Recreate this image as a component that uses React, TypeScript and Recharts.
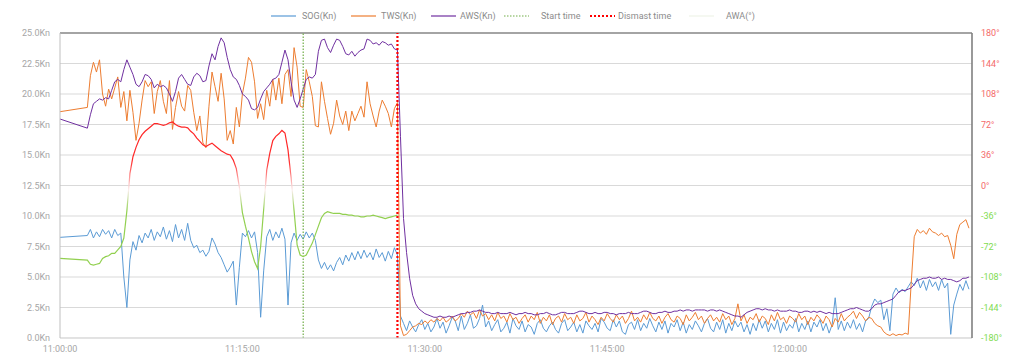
import { CartesianGrid, Line, LineChart, ReferenceLine, XAxis, YAxis } from "recharts"

// sample times: first point at 11:00:00, then a gap, then every 15 s from 11:02:15
const FIRST_SAMPLE_S = 135
const SAMPLE_STEP_S = 15

const START_TIME_S = 1200 // 11:20:00
const DISMAST_TIME_S = 1665 // 11:27:45

const TIME_TICKS = [0, 900, 1800, 2700, 3600]
const KN_TICKS = [0, 2.5, 5, 7.5, 10, 12.5, 15, 17.5, 20, 22.5, 25]
const DEG_TICKS = [-180, -144, -108, -72, -36, 0, 36, 72, 108, 144, 180]

const SOG_KN = [
  8.25,
  8.4, 8.9, 8.2, 8.7, 8.3, 8.9, 8.5, 8.8, 8.2, 8.9,
  8.4, 8.6, 5.0, 2.5, 6.4, 7.9, 7.2, 8.4, 7.8, 8.6,
  8.2, 8.9, 8.0, 8.7, 8.3, 9.1, 8.1, 8.8, 7.9, 9.3,
  8.2, 8.9, 8.0, 9.4, 8.0, 7.4, 7.6, 7.0, 7.2, 6.7,
  7.1, 8.2, 7.7, 7.0, 6.6, 6.0, 5.4, 5.8, 6.3, 2.7,
  5.8, 8.6, 8.3, 8.8, 8.2, 8.7, 7.0, 1.7, 5.5, 8.3,
  8.9, 8.0, 8.7, 8.2, 9.0, 8.1, 2.7, 7.8, 8.6, 8.0,
  8.5, 8.1, 8.7, 8.2, 8.6, 8.0, 6.4, 5.7, 6.2, 5.6,
  6.0, 5.5, 6.2, 6.6, 6.0, 6.8, 6.3, 7.0, 6.4, 7.1,
  6.5, 7.2, 6.6, 7.0, 6.4, 7.3, 6.6, 7.0, 6.3, 7.1,
  6.5, 7.4, 6.8,
  1.8, 1.2, 0.6, 1.4, 0.9, 0.5, 1.1, 1.5, 0.7, 1.2,
  0.5, 0.9, 1.6, 0.8, 1.3, 0.4, 1.0, 1.7, 1.4, 0.6,
  1.8, 0.7, 1.2, 1.9, 0.8, 1.0, 1.6, 2.7, 0.9, 1.4,
  0.6, 1.1, 1.5, 0.5, 0.8, 1.3, 0.4, 1.6, 1.0, 0.7,
  1.4, 0.5, 1.1, 0.9, 0.3, 1.2, 1.5, 0.8, 0.5, 1.0,
  1.3, 0.7, 0.4, 1.2, 1.5, 0.6, 0.9, 1.3, 0.5, 1.1,
  0.4, 1.4, 1.0, 0.7, 1.2, 0.5, 1.6, 1.3, 0.8, 0.6,
  1.5, 0.9, 1.4, 0.5, 0.3, 1.1, 1.3, 0.7, 1.5, 0.6,
  1.2, 0.8, 1.6, 1.0, 0.5, 1.3, 0.7, 1.4, 0.4, 1.2,
  0.9, 1.5, 0.6, 1.3, 0.4, 1.1, 0.7, 1.4, 1.0, 0.5,
  1.2, 1.6, 0.8, 0.5, 1.3, 0.7, 1.5, 0.4, 1.2, 0.6,
  1.4, 0.9, 1.3, 0.5, 1.1, 0.3, 1.2, 0.6, 1.5, 0.8,
  1.4, 0.5, 1.2, 0.7, 1.5, 0.4, 1.3, 0.6, 1.1, 0.8,
  1.6, 0.5, 1.2, 0.7, 1.4, 0.5, 1.3, 0.9, 1.5, 0.6,
  1.2, 0.4, 1.1, 3.3, 0.7, 1.4, 0.6, 1.3, 0.8, 1.5,
  0.7, 1.2, 0.5, 1.4, 1.6,
  2.6, 3.2, 2.9, 3.1, 1.5, 2.4, 0.6, 3.6, 4.1, 3.7,
  4.0, 3.8, 4.2, 4.6, 4.3, 4.9, 4.1, 4.7, 3.9, 4.8,
  4.2, 4.6, 3.9, 4.8, 4.1, 4.5, 0.3, 2.7, 3.6, 4.4,
  3.9, 4.7, 4.0,
]

const TWS_KN = [
  18.55,
  18.9, 21.5, 22.6, 21.8, 22.8, 20.0, 19.0, 20.4, 19.6, 20.5,
  21.4, 18.9, 20.2, 17.8, 20.3, 18.5, 16.2, 17.6, 19.5, 21.1,
  20.6, 21.0, 18.4, 20.2, 21.1, 19.4, 18.4, 21.1, 17.1, 18.9,
  20.2, 19.0, 18.6, 20.7, 20.3, 18.5, 17.0, 18.2, 16.0, 15.6,
  19.0, 21.8, 20.6, 19.4, 21.7, 19.6, 16.2, 17.0, 15.9, 18.9,
  17.3, 20.0, 21.3, 23.0, 22.6, 21.0, 18.0, 19.2, 17.9, 20.3,
  19.0, 21.2, 19.5, 21.3, 19.2, 21.6, 22.0, 19.8, 23.8, 22.2,
  19.0, 18.9, 22.0, 21.0, 19.8, 17.4, 17.3, 21.0, 19.4, 18.0,
  16.7, 17.6, 19.5, 18.2, 17.5, 18.6, 17.0, 18.6, 17.8, 18.4,
  19.0, 18.1, 21.0, 19.2, 18.2, 17.3, 18.6, 19.5, 19.0, 18.4,
  17.3, 18.8, 19.3,
  1.0, 0.2, 0.3, 0.6, 0.9, 1.0, 1.2, 1.1, 1.4, 1.2,
  1.5, 1.3, 1.6, 1.4, 1.7, 1.3, 1.5, 1.8, 1.4, 1.6,
  2.0, 1.7, 2.2, 1.9, 2.1, 1.6, 2.3, 1.8, 2.0, 1.5,
  1.9, 1.4, 2.1, 1.6, 1.8, 1.3, 2.0, 1.5, 1.7, 1.2,
  1.6, 1.9, 1.3, 1.8, 1.5, 2.1, 1.2, 1.7, 1.4, 1.9,
  1.1, 1.6, 1.8, 1.3, 2.0, 1.5, 1.7, 1.2, 1.9, 1.4,
  1.6, 2.1, 1.3, 1.8, 1.5, 1.1, 1.7, 1.4, 2.0, 1.6,
  1.3, 1.9, 1.5, 1.8, 1.2, 1.6, 2.2, 1.4, 1.7, 1.3,
  1.9, 1.5, 2.1, 1.6, 1.4, 1.8, 1.2, 1.7, 2.0, 1.5,
  1.3, 1.8, 1.6, 1.1, 1.9, 1.4, 1.7, 2.1, 1.5, 1.8,
  1.2, 1.6, 1.9, 1.4, 1.7, 1.3, 2.0, 1.5, 1.8, 1.1,
  1.6, 2.8, 1.4, 1.9, 1.2, 1.7, 1.5, 2.0, 1.3, 1.8,
  1.6, 1.1, 1.9, 1.4, 2.1, 1.5, 1.7, 1.2, 1.8, 1.6,
  1.3, 2.0, 1.5, 1.8, 1.1, 1.7, 1.4, 1.9, 1.6, 1.2,
  1.8, 1.5, 0.9, 1.6, 1.3, 2.0, 1.4, 1.7, 1.9, 2.2,
  1.6, 2.1, 1.8, 1.4, 1.7,
  1.6, 1.2, 1.0, 0.9, 0.5, 0.3, 0.2, 0.35, 0.2, 0.3,
  0.25, 0.4, 0.3, 4.5, 8.3, 8.9, 8.6, 8.8, 8.5, 9.0,
  8.7, 8.6, 8.4, 8.6, 8.3, 8.4, 7.6, 6.5, 8.5, 9.3,
  9.5, 9.7, 9.0,
]

const AWS_KN = [
  17.95,
  17.2, 18.3, 19.2, 19.4, 19.6, 19.5, 19.7, 19.6, 20.3, 21.0,
  21.2, 21.0, 22.0, 22.8, 22.2, 21.6, 20.8, 20.6, 21.0, 21.6,
  21.5, 21.2, 20.5, 20.8, 20.6, 20.7, 20.5, 20.0, 19.4, 20.2,
  21.3, 21.6, 21.2, 20.8, 20.7, 21.4, 21.7, 21.5, 21.0, 21.1,
  22.3, 23.3, 22.8, 23.9, 24.6, 24.2, 23.0, 22.0, 21.4, 21.2,
  20.7, 20.0, 19.8, 19.5, 18.8, 18.7, 18.9, 19.6, 20.2, 20.5,
  20.8, 21.2, 21.3, 21.6, 22.6, 23.6, 22.8, 21.0, 19.5, 18.9,
  19.6, 20.4, 21.2, 21.4, 21.3, 21.6, 23.5, 24.4, 24.5, 23.8,
  23.4, 24.0, 24.5, 24.4, 23.9, 23.3, 23.2, 23.5, 23.1, 23.4,
  23.6, 23.7, 24.5, 24.4, 24.1, 24.2, 24.0, 24.3, 24.2, 24.0,
  24.1, 23.7, 23.6,
  16.5, 9.8, 7.0, 4.9, 3.5, 2.8, 2.4, 2.2,
  2.0, 1.9, 1.8, 1.7, 1.7, 1.8, 1.7, 1.7, 1.8, 1.7,
  1.8, 1.9, 2.0, 2.0, 2.1, 2.1, 2.2, 2.2, 2.3, 2.2,
  2.1, 2.1, 2.0, 2.0, 2.1, 2.0, 2.0, 2.0, 2.1, 2.0,
  1.9, 2.0, 2.0, 2.1, 2.0, 2.0, 1.9, 1.9, 2.0, 2.0,
  2.1, 2.0, 1.9, 1.9, 2.0, 2.1, 2.1, 2.0, 2.0, 2.0,
  2.1, 2.2, 2.2, 2.1, 2.0, 2.0, 2.1, 2.0, 2.0, 2.1,
  2.1, 2.0, 2.0, 1.9, 2.0, 2.0, 2.0, 2.1, 2.0, 2.0,
  2.0, 2.1, 2.2, 2.2, 2.1, 2.0, 2.0, 2.1, 2.1, 2.2,
  2.1, 2.1, 2.2, 2.2, 2.3, 2.2, 2.3, 2.3, 2.2, 2.3,
  2.3, 2.3, 2.3, 2.2, 2.3, 2.3, 2.2, 2.3, 2.2, 2.1,
  2.0, 1.9, 1.8, 1.8, 1.7, 1.9, 2.1, 2.2, 2.3, 2.4,
  2.4, 2.3, 2.4, 2.3, 2.3, 2.2, 2.3, 2.2, 2.2, 2.2,
  2.3, 2.2, 2.2, 2.1, 2.1, 2.2, 2.2, 2.1, 2.2, 2.1,
  2.2, 2.1, 2.0, 2.1, 2.0, 2.0, 2.0, 2.1, 2.2, 2.3,
  2.4, 2.4, 2.5, 2.4, 2.3, 2.2, 2.2,
  2.4, 2.7, 2.8, 2.8, 2.9, 3.0, 3.1, 3.2, 3.5, 3.8,
  3.9, 3.9, 4.0, 4.1, 4.4, 4.7, 4.8, 4.9, 4.9, 5.0,
  4.9, 4.9, 5.0, 4.8, 4.9, 4.8, 4.8, 4.7, 4.6, 4.7,
  4.9, 4.9, 5.0,
]

// apparent wind angle, only logged until the dismast
const AWA_DEG = [
  -86,
  -88, -93, -94, -93, -92, -86, -84, -83, -80, -80,
  -76, -72, -62, -30, 14, 34, 45, 54, 60, 64,
  67, 70, 73, 73, 72, 71, 72, 74, 75, 72,
  70, 69, 69, 68, 64, 61, 56, 52, 48, 46,
  48, 50, 47, 44, 41, 39, 37, 36, 30, 20,
  -2, -32, -48, -62, -78, -90, -98, -72, -28, 18,
  38, 53, 58, 61, 65, 62, 42, 10, -30, -70,
  -82, -84, -82, -75, -68, -58, -48, -38, -33, -31,
  -32, -33, -33, -33, -34, -34, -35, -35, -36, -36,
  -37, -37, -36, -36, -35, -36, -37, -38, -39, -38,
  -37, -36, -35,
]

const rows = SOG_KN.map((sog, i) => ({
  t: i === 0 ? 0 : FIRST_SAMPLE_S + SAMPLE_STEP_S * (i - 1),
  sog,
  tws: TWS_KN[i] ?? null,
  aws: AWS_KN[i] ?? null,
  awa: i < AWA_DEG.length ? AWA_DEG[i] : null,
}))

const FONT = "Roboto, sans-serif"
const TICK_GRAY = "#a6a6a6"

function clock(s: number) {
  const total = 11 * 3600 + s
  const h = Math.floor(total / 3600)
  const m = Math.floor((total % 3600) / 60)
  const sec = total % 60
  return `${h}:${String(m).padStart(2, "0")}:${String(sec).padStart(2, "0")}`
}

function DegTick(props: any) {
  const { x, y, payload } = props
  const v = payload.value as number
  return (
    <text
      x={x}
      y={y}
      dy="0.355em"
      textAnchor="start"
      fontSize={9}
      fontFamily={FONT}
      fill={v >= 0 ? "#f46a6a" : "#7fdc50"}
    >
      {`${v}°`}
    </text>
  )
}

const legendItems = [
  { label: "SOG(Kn)", color: "#5b9bd5", dash: undefined, x: 271, tx: 302, w: 1.2 },
  { label: "TWS(Kn)", color: "#ed7d31", dash: undefined, x: 351, tx: 381, w: 1.2 },
  { label: "AWS(Kn)", color: "#7030a0", dash: undefined, x: 431, tx: 460, w: 1.2 },
  { label: "Start time", color: "#70ad47", dash: "1.5 1.5", x: 504, tx: 541, w: 1.2 },
  { label: "Dismast time", color: "#ff0000", dash: "2 2", x: 590, tx: 618, w: 2 },
  { label: "AWA(°)", color: "#eef3e8", dash: undefined, x: 689, tx: 726, w: 1.2 },
]

function Legend() {
  return (
    <svg width={1024} height={30} style={{ position: "absolute", left: 0, top: 0 }}>
      {legendItems.map((it) => (
        <g key={it.label}>
          <line
            x1={it.x}
            x2={it.x + 25}
            y1={16}
            y2={16}
            stroke={it.color}
            strokeWidth={it.w}
            strokeDasharray={it.dash}
          />
          <text x={it.tx} y={19} fontSize={9} fontFamily={FONT} fill="#8c8c8c">
            {it.label}
          </text>
        </g>
      ))}
    </svg>
  )
}

export default function App() {
  return (
    <div style={{ position: "absolute", left: 0, top: 0, width: 1024, height: 357, background: "#fff" }}>
      <LineChart width={1024} height={357} data={rows} margin={{ top: 33, right: 0, bottom: 0, left: 0 }}>
        <defs>
          <linearGradient id="awaGrad" gradientUnits="userSpaceOnUse" x1="0" y1="33" x2="0" y2="338">
            <stop offset="0" stopColor="#ff1a1a" />
            <stop offset="0.42" stopColor="#ff2a2a" />
            <stop offset="0.515" stopColor="#fbeeee" />
            <stop offset="0.58" stopColor="#92d050" />
            <stop offset="1" stopColor="#92d050" />
          </linearGradient>
        </defs>
        <CartesianGrid yAxisId="kn" vertical={false} stroke="#d9d9d9" />
        <XAxis
          dataKey="t"
          type="number"
          domain={[0, 4500]}
          ticks={TIME_TICKS}
          tickFormatter={clock}
          axisLine={{ stroke: "#d9d9d9" }}
          tickLine={false}
          tick={{ fill: TICK_GRAY, fontSize: 9, fontFamily: FONT }}
          height={19}
        />
        <YAxis
          yAxisId="kn"
          domain={[0, 25]}
          ticks={KN_TICKS}
          tickFormatter={(v) => `${Number(v).toFixed(1)}Kn`}
          axisLine={{ stroke: "#bfbfbf" }}
          tickLine={false}
          tickMargin={4}
          tick={{ fill: TICK_GRAY, fontSize: 9, fontFamily: FONT }}
          width={60}
        />
        <YAxis
          yAxisId="deg"
          orientation="right"
          domain={[-180, 180]}
          ticks={DEG_TICKS}
          axisLine={{ stroke: "#808080", strokeWidth: 1.6 }}
          tickLine={false}
          tickMargin={3}
          tick={<DegTick />}
          width={52}
        />
        <ReferenceLine yAxisId="kn" y={25} stroke="#8c8c8c" strokeWidth={1.4} />
        <Line
          yAxisId="kn"
          dataKey="sog"
          stroke="#5b9bd5"
          strokeWidth={1}
          dot={false}
          isAnimationActive={false}
        />
        <Line
          yAxisId="kn"
          dataKey="tws"
          stroke="#ed7d31"
          strokeWidth={1}
          dot={false}
          isAnimationActive={false}
        />
        <Line
          yAxisId="kn"
          dataKey="aws"
          stroke="#7030a0"
          strokeWidth={1}
          dot={false}
          isAnimationActive={false}
        />
        <ReferenceLine
          yAxisId="kn"
          x={START_TIME_S}
          stroke="#70ad47"
          strokeWidth={1.2}
          strokeDasharray="1.5 1.5"
        />
        <ReferenceLine
          yAxisId="kn"
          x={DISMAST_TIME_S}
          stroke="#ff0000"
          strokeWidth={2.2}
          strokeDasharray="2 2"
        />
        <Line
          yAxisId="deg"
          dataKey="awa"
          stroke="url(#awaGrad)"
          strokeWidth={1.2}
          dot={false}
          connectNulls={false}
          isAnimationActive={false}
        />
      </LineChart>
      <Legend />
    </div>
  )
}
